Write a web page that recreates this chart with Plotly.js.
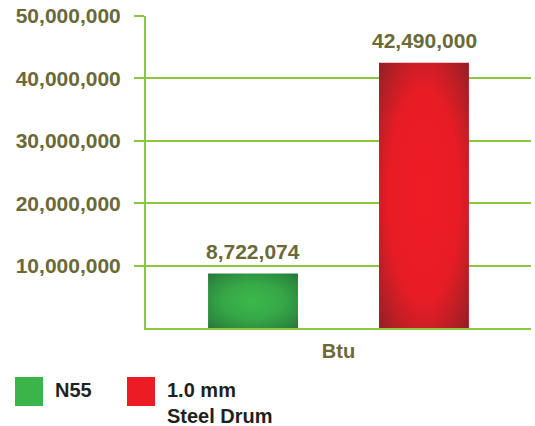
<!DOCTYPE html>
<html><head><meta charset="utf-8">
<script src="https://cdn.plot.ly/plotly-3.0.1.min.js"></script>
<style>html,body{margin:0;padding:0;background:#fff}#chart{width:535px;height:426px}</style>
</head><body><div id="chart"></div>
<script>
const categories = ["Btu"];
const seriesNames = ["N55", "1.0 mm<br>Steel Drum"];
const n55Values = [8722074];
const steelValues = [42490000];
const yTickVals = [10000000, 20000000, 30000000, 40000000, 50000000];
const yTickText = ["10,000,000", "20,000,000", "30,000,000", "40,000,000", "50,000,000"];

const olive = "#6b6937";
const grid = "#8dc63f";
const fontFam = "'Liberation Sans', Arial, Helvetica, sans-serif";

const valFont = {family: fontFam, size: 21, color: olive, weight: "bold"};
const seriesValues = [n55Values, steelValues];
const traces = [
  {type: "bar", x: categories, y: n55Values, name: seriesNames[0], marker: {color: "#35a046"}, cliponaxis: false},
  {type: "bar", x: categories, y: steelValues, name: seriesNames[1], marker: {color: "#dc1c24"}, cliponaxis: false}
];

const legendColors = ["#3bb54a", "#ed1c24"];
const legendX = [15, 127];
const shapes = [], annotations = [];
for (let i = 0; i < seriesNames.length; i++) {
  shapes.push({type: "rect", xref: "paper", yref: "paper", xsizemode: "pixel", ysizemode: "pixel",
    xanchor: (legendX[i] - 146) / 385, yanchor: -(377 - 328) / 312,
    x0: 0, x1: 28, y0: 0, y1: -29, line: {width: 0}, fillcolor: legendColors[i]});
  annotations.push({xref: "paper", yref: "paper", x: (legendX[i] + 38 - 146) / 385, y: -(377 - 328) / 312,
    xanchor: "left", yanchor: "top", align: "left", showarrow: false, text: seriesNames[i],
    font: {family: fontFam, size: 20, color: "#231f20", weight: "bold"}});
}
// value labels above each bar (offset to the grouped bar position)
const groupShift = [-85.5, 85.5];
for (let i = 0; i < seriesValues.length; i++) {
  categories.forEach(function(c, j) {
    annotations.push({x: c, y: seriesValues[i][j], xref: "x", yref: "y", xshift: groupShift[i], yshift: 9,
      yanchor: "bottom", showarrow: false, text: Plotly.d3 ? "" : "", font: valFont});
    annotations[annotations.length - 1].text = seriesValues[i][j].toLocaleString("en-US");
  });
}

const layout = {
  width: 535, height: 426,
  margin: {l: 146, r: 4, t: 16, b: 98},
  paper_bgcolor: "#fff", plot_bgcolor: "#fff",
  showlegend: false,
  barmode: "group", bargap: 0.112, bargroupgap: 0.474,
  font: {family: fontFam},
  xaxis: {showgrid: false, showline: true, linecolor: grid, linewidth: 2, ticks: "",
    ticklabelstandoff: 4,
    tickfont: {family: fontFam, size: 20, color: olive, weight: "bold"}, fixedrange: true},
  yaxis: {range: [0, 50000000], tickvals: yTickVals, ticktext: yTickText,
    showgrid: true, gridcolor: grid, gridwidth: 2, showline: true, linecolor: grid, linewidth: 2,
    ticks: "outside", ticklen: 10, tickwidth: 2, tickcolor: grid, zeroline: false,
    ticklabelstandoff: 9,
    tickfont: {family: fontFam, size: 21, color: olive, weight: "bold"}, fixedrange: true},
  shapes: shapes, annotations: annotations
};

Plotly.newPlot("chart", traces, layout, {displayModeBar: false, staticPlot: true}).then(function(gd) {
  const svg = gd.querySelector("svg.main-svg");
  const NS = "http://www.w3.org/2000/svg";
  let defs = svg.querySelector("defs");
  const grads = [
    ["gradG", [[0, "#3cb84b"], [0.45, "#36a847"], [0.8, "#2d8a40"], [1, "#267238"]]],
    ["gradR", [[0, "#ee1c25"], [0.55, "#e81c25"], [0.75, "#c21e26"], [1, "#8f1f24"]]]
  ];
  grads.forEach(function(g) {
    const rg = document.createElementNS(NS, "radialGradient");
    rg.setAttribute("id", g[0]);
    rg.setAttribute("cx", "0.5"); rg.setAttribute("cy", "0.5"); rg.setAttribute("r", "0.72");
    g[1].forEach(function(s) {
      const st = document.createElementNS(NS, "stop");
      st.setAttribute("offset", s[0]); st.setAttribute("stop-color", s[1]);
      rg.appendChild(st);
    });
    defs.appendChild(rg);
  });
  const barTraces = gd.querySelectorAll(".barlayer .trace");
  barTraces.forEach(function(t, i) {
    t.querySelectorAll("path").forEach(function(p) { p.style.fill = "url(#" + grads[i][0] + ")"; });
  });
});
</script></body></html>
